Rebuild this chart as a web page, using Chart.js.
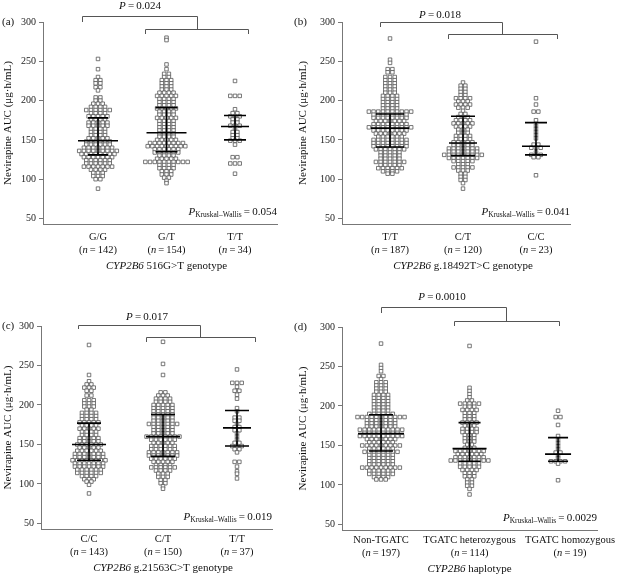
<!DOCTYPE html>
<html>
<head>
<meta charset="utf-8">
<script src="https://cdn.jsdelivr.net/npm/chart.js@4.4.0/dist/chart.umd.min.js"></script>
<style>
  body { margin: 0; background: #fff; width: 620px; height: 575px; position: relative; overflow: hidden; }
  canvas { position: absolute; }
</style>
</head>
<body>
<canvas id="pa" width="292" height="290" style="left:0;top:0"></canvas>
<canvas id="pb" width="328" height="290" style="left:292px;top:0"></canvas>
<canvas id="pc" width="292" height="285" style="left:0;top:290px"></canvas>
<canvas id="pd" width="328" height="285" style="left:292px;top:290px"></canvas>
<script>
const yTicks = [50, 100, 150, 200, 250, 300];
const yTitle = 'Nevirapine AUC (μg·h/mL)';

// (a) CYP2B6 516G>T -- each group: AUC row values and number of patients in that row
const aCats = ['G/G', 'G/T', 'T/T'];
const aN = [142, 154, 34];
const aMedian = [149, 159, 167];
const aQ1 = [131, 135, 150];
const aQ3 = [178, 191, 181];
const aGGauc = [253, 240, 230, 226, 222, 217, 213, 204, 200, 196, 192, 188, 184, 180, 176, 172, 168, 164, 160, 156, 152, 148, 144, 140, 136, 132, 128, 124, 120, 116, 112, 108, 104, 100, 88];
const aGGcnt = [1, 1, 1, 2, 2, 2, 1, 2, 2, 3, 4, 6, 4, 5, 4, 5, 5, 4, 4, 4, 5, 6, 6, 7, 9, 8, 7, 6, 6, 7, 4, 3, 3, 2, 1];
const aGTauc = [280, 277, 246, 240, 234, 230, 226, 222, 218, 214, 210, 206, 202, 198, 194, 190, 186, 182, 178, 174, 170, 166, 162, 158, 154, 150, 146, 142, 138, 134, 130, 126, 122, 118, 114, 110, 106, 102, 98, 95];
const aGTcnt = [1, 1, 1, 1, 2, 2, 3, 3, 3, 3, 4, 5, 4, 4, 4, 5, 4, 4, 5, 4, 4, 4, 4, 4, 4, 5, 8, 9, 6, 6, 4, 5, 10, 4, 4, 3, 3, 2, 1, 1];
const aTTauc = [225, 206, 189, 184, 180, 176, 172, 168, 164, 160, 156, 152, 149, 144, 128, 120, 107];
const aTTcnt = [1, 3, 1, 2, 3, 2, 2, 3, 1, 2, 2, 2, 3, 1, 2, 3, 1];

// (b) CYP2B6 g.18492T>C
const bCats = ['T/T', 'C/T', 'C/C'];
const bN = [187, 120, 23];
const bMedian = [165, 146, 142];
const bQ1 = [141, 130, 131];
const bQ3 = [183, 180, 172];
const bTTauc = [279, 252, 248, 240, 236, 230, 226, 222, 218, 214, 210, 206, 202, 198, 194, 190, 186, 182, 178, 174, 170, 166, 162, 158, 154, 150, 146, 142, 138, 134, 130, 126, 122, 118, 114, 110, 107];
const bTTcnt = [1, 1, 1, 2, 2, 3, 3, 3, 3, 3, 3, 4, 4, 4, 4, 4, 10, 8, 8, 7, 8, 10, 8, 7, 6, 8, 8, 8, 7, 5, 5, 5, 7, 5, 6, 4, 2];
const bCTauc = [223, 219, 215, 211, 207, 203, 199, 195, 191, 187, 183, 179, 175, 171, 167, 163, 159, 155, 151, 147, 143, 139, 135, 131, 127, 123, 119, 115, 111, 107, 103, 99, 95, 88];
const bCTcnt = [1, 2, 2, 2, 2, 4, 3, 4, 3, 1, 2, 3, 4, 5, 4, 3, 3, 4, 4, 5, 5, 7, 7, 9, 7, 5, 3, 5, 3, 2, 2, 2, 1, 1];
const bCCauc = [275, 203, 195, 186, 175, 168, 164, 160, 156, 152, 144, 140, 134, 131, 128, 105];
const bCCcnt = [1, 1, 1, 2, 1, 1, 1, 1, 1, 1, 2, 3, 1, 3, 2, 1];

// (c) CYP2B6 g.21563C>T
const cCats = ['C/C', 'C/T', 'T/T'];
const cN = [143, 150, 37];
const cMedian = [150, 160, 171];
const cQ1 = [130, 135, 148];
const cQ3 = [177, 188, 193];
const cCCauc = [276, 238, 230, 226, 222, 218, 212, 206, 202, 198, 194, 190, 186, 182, 178, 174, 170, 166, 162, 158, 154, 150, 146, 142, 138, 134, 130, 126, 122, 118, 114, 110, 106, 103, 99, 88];
const cCCcnt = [1, 1, 1, 2, 3, 2, 2, 3, 3, 3, 2, 4, 4, 4, 5, 4, 5, 4, 4, 5, 5, 6, 5, 6, 7, 7, 8, 7, 7, 6, 6, 4, 3, 2, 1, 1];
const cCTauc = [280, 252, 238, 216, 212, 208, 204, 200, 196, 192, 188, 184, 180, 176, 172, 168, 164, 160, 156, 152, 148, 144, 140, 136, 132, 128, 124, 121, 117, 113, 109, 105, 101, 97, 94];
const cCTcnt = [1, 1, 1, 2, 3, 4, 4, 5, 5, 5, 5, 5, 5, 7, 5, 5, 5, 8, 6, 5, 6, 6, 7, 7, 6, 5, 4, 6, 4, 3, 3, 2, 2, 1, 1];
const cTTauc = [245, 228, 223, 218, 213, 208, 196, 192, 184, 180, 176, 172, 168, 164, 160, 156, 152, 148, 144, 140, 128, 122, 116, 113, 107];
const cTTcnt = [1, 3, 1, 2, 1, 1, 1, 1, 2, 2, 1, 2, 2, 1, 1, 1, 2, 3, 2, 1, 2, 1, 1, 1, 1];

// (d) CYP2B6 haplotype
const dCats = ['Non-TGATC', 'TGATC heterozygous', 'TGATC homozygous'];
const dN = [197, 114, 19];
const dMedian = [165, 146, 139];
const dQ1 = [143, 130, 130];
const dQ3 = [189, 179, 160];
const dNonAuc = [279, 252, 248, 244, 238, 234, 230, 226, 222, 218, 214, 210, 206, 202, 198, 194, 190, 186, 182, 178, 174, 170, 166, 162, 158, 154, 150, 146, 142, 138, 134, 130, 126, 122, 118, 114, 110, 107];
const dNonCnt = [1, 1, 1, 1, 2, 1, 3, 3, 3, 3, 4, 4, 4, 4, 4, 4, 6, 11, 7, 7, 7, 10, 8, 10, 7, 6, 9, 6, 8, 6, 6, 6, 6, 9, 6, 6, 4, 3];
const dHetAuc = [276, 223, 219, 215, 211, 207, 203, 199, 195, 191, 187, 183, 179, 175, 171, 167, 163, 159, 155, 151, 147, 143, 139, 135, 131, 127, 123, 119, 115, 111, 107, 103, 99, 95, 88];
const dHetCnt = [1, 1, 1, 1, 1, 2, 5, 3, 4, 3, 3, 3, 4, 3, 4, 4, 3, 3, 3, 2, 3, 7, 6, 7, 9, 5, 5, 4, 3, 3, 2, 2, 2, 1, 1];
const dHomAuc = [194, 186, 176, 162, 157, 153, 149, 145, 141, 137, 134, 130, 127, 106];
const dHomCnt = [1, 2, 1, 1, 1, 1, 1, 1, 2, 1, 1, 4, 1, 1];

const F = "'Liberation Serif', 'DejaVu Serif', serif";

const panels = [
  { id: 'pa', tag: '(a)', cats: aCats, n: aN, med: aMedian, q1: aQ1, q3: aQ3,
    groups: [[aGGauc, aGGcnt], [aGTauc, aGTcnt], [aTTauc, aTTcnt]],
    p: '0.024', pkw: '0.054', gene: ' 516G>T genotype',
    w: 292, h: 290, area: { l: 43, r: 277, t: 22, b: 224 }, xr: [0.197, 3.613],
    medW: [20, 20, 14], iqrW: [10, 11, 11], pPos: [140, 6], tagY: 22, yTitleX: 8,
    lab: [13, 26, 42], labDx: [0, 0, 0],
    br: { top: 16, x1: 82, x2: 197, dl: 22, low: 29, x3: 145, x4: 248, dd: 34 } },
  { id: 'pb', tag: '(b)', cats: bCats, n: bN, med: bMedian, q1: bQ1, q3: bQ3,
    groups: [[bTTauc, bTTcnt], [bCTauc, bCTcnt], [bCCauc, bCCcnt]],
    p: '0.018', pkw: '0.041', gene: ' g.18492T>C genotype',
    w: 328, h: 290, area: { l: 50, r: 278, t: 22, b: 224 }, xr: [0.342, 3.466],
    medW: [19, 14, 14], iqrW: [14, 12, 11], pPos: [148, 15], tagY: 22, yTitleX: 11,
    lab: [13, 26, 42], labDx: [0, 0, 0],
    br: { top: 22, x1: 88, x2: 210, dl: 27, low: 34, x3: 156, x4: 265, dd: 39 } },
  { id: 'pc', tag: '(c)', cats: cCats, n: cN, med: cMedian, q1: cQ1, q3: cQ3,
    groups: [[cCCauc, cCCcnt], [cCTauc, cCTcnt], [cTTauc, cTTcnt]],
    p: '0.017', pkw: '0.019', gene: ' g.21563C>T genotype',
    w: 292, h: 285, area: { l: 41, r: 272, t: 36, b: 239 }, xr: [0.351, 3.473],
    medW: [17, 17, 14], iqrW: [12, 12, 12], pPos: [147, 27], tagY: 36, yTitleX: 8,
    lab: [10, 23, 39], labDx: [0, 0, 0],
    br: { top: 35, x1: 78, x2: 200, dl: 39, low: 47, x3: 146, x4: 255, dd: 52 } },
  { id: 'pd', tag: '(d)', cats: dCats, n: dN, med: dMedian, q1: dQ1, q3: dQ3,
    groups: [[dNonAuc, dNonCnt], [dHetAuc, dHetCnt], [dHomAuc, dHomCnt]],
    p: '0.0010', pkw: '0.0029', gene: ' haplotype',
    w: 328, h: 285, area: { l: 50, r: 305, t: 37, b: 240 }, xr: [0.559, 3.44],
    medW: [23, 17, 13], iqrW: [12, 11, 10], pPos: [150, 7], tagY: 37, yTitleX: 11,
    lab: [10, 23, 39], labDx: [0, 0, 12],
    br: { top: 17, x1: 89, x2: 214, dl: 23, low: 31, x3: 162, x4: 267, dd: 36 } }
];

// spread the patients of one row side by side around the category position
function swarm(cat, vals, counts, dx) {
  const pts = [];
  vals.forEach((v, i) => {
    const k = counts[i];
    for (let j = 0; j < k; j++) pts.push({ x: cat + (j - (k - 1) / 2) * dx, y: v });
  });
  return pts;
}

function drawRuns(ctx, parts, x, y, align) {
  let total = 0;
  parts.forEach(p => { ctx.font = p[1]; total += ctx.measureText(p[0]).width; });
  let cx = align === 'center' ? x - total / 2 : align === 'right' ? x - total : x;
  ctx.textAlign = 'left';
  parts.forEach(p => {
    ctx.font = p[1];
    ctx.fillText(p[0], cx, y + (p[2] || 0));
    cx += ctx.measureText(p[0]).width;
  });
}

function makeOverlay(P) {
  return {
    id: 'overlay',
    afterDatasetsDraw(chart) {
      const ctx = chart.ctx, xs = chart.scales.x, ys = chart.scales.y;
      ctx.save();
      ctx.strokeStyle = '#000';
      ctx.lineWidth = 1.6;
      P.cats.forEach((c, i) => {
        const cx = xs.getPixelForValue(i + 1);
        const ym = ys.getPixelForValue(P.med[i]);
        const y1 = ys.getPixelForValue(P.q1[i]);
        const y3 = ys.getPixelForValue(P.q3[i]);
        ctx.beginPath();
        ctx.moveTo(cx - P.medW[i], ym); ctx.lineTo(cx + P.medW[i], ym);
        ctx.moveTo(cx - P.iqrW[i], y1); ctx.lineTo(cx + P.iqrW[i], y1);
        ctx.moveTo(cx - P.iqrW[i], y3); ctx.lineTo(cx + P.iqrW[i], y3);
        ctx.moveTo(cx, y1); ctx.lineTo(cx, y3);
        ctx.stroke();
      });
      ctx.restore();
    },
    afterDraw(chart) {
      const ctx = chart.ctx, xs = chart.scales.x, a = chart.chartArea;
      const nf = '10.5px ' + F, itf = 'italic 10.5px ' + F, bf = '11px ' + F, ibf = 'italic 11px ' + F;
      ctx.save();
      ctx.fillStyle = '#111';
      ctx.textBaseline = 'middle';

      // category labels with n
      P.cats.forEach((c, i) => {
        const cx = xs.getPixelForValue(i + 1) + P.labDx[i];
        drawRuns(ctx, [[c, nf]], cx, a.bottom + P.lab[0], 'center');
        drawRuns(ctx, [['(', nf], ['n', itf], ['\u2009=\u2009' + P.n[i] + ')', nf]], cx, a.bottom + P.lab[1], 'center');
      });
      drawRuns(ctx, [['CYP2B6', ibf], [P.gene, bf]], xs.getPixelForValue(2), a.bottom + P.lab[2], 'center');

      // panel tag and y title
      drawRuns(ctx, [[P.tag, bf]], 2, P.tagY, 'left');
      ctx.save();
      ctx.translate(P.yTitleX, (a.top + a.bottom) / 2);
      ctx.rotate(-Math.PI / 2);
      drawRuns(ctx, [[yTitle, bf]], 0, 0, 'center');
      ctx.restore();

      // Kruskal-Wallis
      drawRuns(ctx, [['P', ibf], ['Kruskal–Wallis', '7.5px ' + F, 3], ['\u2009=\u2009' + P.pkw, bf]],
        a.right, a.bottom - 12, 'right');

      // pairwise bracket
      const b = P.br;
      ctx.strokeStyle = '#555';
      ctx.lineWidth = 1;
      ctx.beginPath();
      ctx.moveTo(b.x1 + 0.5, b.dl); ctx.lineTo(b.x1 + 0.5, b.top + 0.5);
      ctx.lineTo(b.x2 + 0.5, b.top + 0.5); ctx.lineTo(b.x2 + 0.5, b.low);
      ctx.moveTo(b.x3 + 0.5, b.dd); ctx.lineTo(b.x3 + 0.5, b.low + 0.5);
      ctx.lineTo(b.x4 + 0.5, b.low + 0.5); ctx.lineTo(b.x4 + 0.5, b.dd);
      ctx.stroke();
      drawRuns(ctx, [['P', ibf], ['\u2009=\u2009' + P.p, bf]], P.pPos[0], P.pPos[1], 'center');
      ctx.restore();
    }
  };
}

panels.forEach(P => {
  const a = P.area;
  const pxPerUnit = (a.r - a.l) / (P.xr[1] - P.xr[0]);
  const dx = 4.7 / pxPerUnit;
  new Chart(document.getElementById(P.id), {
    type: 'scatter',
    data: {
      datasets: P.groups.map((g, i) => ({
        data: swarm(i + 1, g[0], g[1], dx),
        pointStyle: 'rect',
        pointRadius: 2.5,
        pointHoverRadius: 2.5,
        pointBorderWidth: 0.8,
        borderColor: '#555',
        backgroundColor: '#fff'
      }))
    },
    options: {
      responsive: false,
      animation: false,
      devicePixelRatio: 1,
      events: [],
      layout: { padding: { left: 0, top: a.t, right: P.w - a.r, bottom: P.h - a.b } },
      plugins: { legend: { display: false }, tooltip: { enabled: false } },
      scales: {
        x: {
          type: 'linear', min: P.xr[0], max: P.xr[1],
          ticks: { display: false },
          grid: { display: false },
          border: { display: true, color: '#777', width: 1 },
          afterFit: s => { s.height = 0; }
        },
        y: {
          min: 43, max: 300,
          afterBuildTicks: s => { s.ticks = yTicks.map(v => ({ value: v })); },
          ticks: { font: { family: F, size: 10 }, color: '#222', padding: 3 },
          grid: { drawOnChartArea: false, drawTicks: true, tickLength: 4, color: '#777' },
          border: { display: true, color: '#777', width: 1 },
          afterFit: s => { s.width = a.l; }
        }
      }
    },
    plugins: [makeOverlay(P)]
  });
});
</script>
</body>
</html>
